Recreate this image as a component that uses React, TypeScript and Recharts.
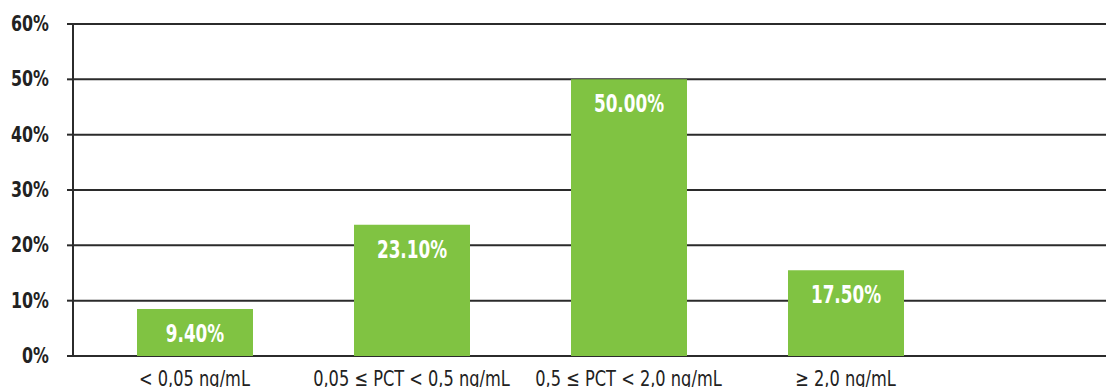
import { BarChart, Bar, XAxis, YAxis, CartesianGrid, LabelList } from 'recharts';

const categories = ['< 0,05 ng/mL', '0,05 ≤ PCT < 0,5 ng/mL', '0,5 ≤ PCT < 2,0 ng/mL', '≥ 2,0 ng/mL'];
// bar heights as drawn in the picture (percent)
const barHeights = [8.5, 23.7, 50.0, 15.5];
// printed labels
const barLabels = ['9.40%', '23.10%', '50.00%', '17.50%'];
const yTicks = [0, 10, 20, 30, 40, 50, 60];

const GREEN = '#80c342';
const LINE = '#2b2b2b';
const FONT = "'DejaVu Sans Condensed', 'Liberation Sans Narrow', sans-serif";

const data = categories.map((name, i) => ({ name, value: barHeights[i], label: barLabels[i] }));

// condensed look: squeeze text horizontally
const Squeezed = ({ x, y, anchor, sx, children, ...rest }: any) => (
  <g transform={`translate(${x},${y}) scale(${sx},1)`}>
    <text x={0} y={0} textAnchor={anchor} fontFamily={FONT} {...rest}>
      {children}
    </text>
  </g>
);

const XTick = (props: any) => {
  const { x, y, payload } = props;
  return (
    <Squeezed x={x} y={y + 22} anchor="middle" sx={0.82} fill="#222" fontSize={22}>
      {payload.value}
    </Squeezed>
  );
};

const YTick = (props: any) => {
  const { x, y, payload } = props;
  return (
    <Squeezed x={x} y={y + 7} anchor="end" sx={0.84} fill="#222" fontSize={21} fontWeight="bold">
      {`${payload.value}%`}
    </Squeezed>
  );
};

const BarLabel = (props: any) => {
  const { x, y, width, index } = props;
  return (
    <Squeezed x={x + width / 2} y={y + 33} anchor="middle" sx={0.78} fill="#fff" fontSize={24} fontWeight="bold">
      {barLabels[index]}
    </Squeezed>
  );
};

export default function App() {
  return (
    <div style={{ position: 'absolute', left: 0, top: 0, background: '#fff' }}>
      <BarChart
        width={1106}
        height={387}
        data={data}
        margin={{ top: 24, right: 0, bottom: 0, left: 0 }}
      >
        <CartesianGrid vertical={false} stroke={LINE} strokeWidth={2} />
        <XAxis
          dataKey="name"
          height={31}
          axisLine={false}
          tickLine={false}
          interval={0}
          padding={{ left: 13, right: 152 }}
          tick={XTick}
        />
        <YAxis
          width={73}
          domain={[0, 60]}
          ticks={yTicks}
          interval={0}
          axisLine={{ stroke: LINE, strokeWidth: 2 }}
          tickLine={{ stroke: LINE, strokeWidth: 2 }}
          tickSize={6}
          tickMargin={18}
          tick={YTick}
        />
        <Bar dataKey="value" fill={GREEN} barSize={116} isAnimationActive={false}>
          <LabelList dataKey="label" content={BarLabel} />
        </Bar>
      </BarChart>
    </div>
  );
}
